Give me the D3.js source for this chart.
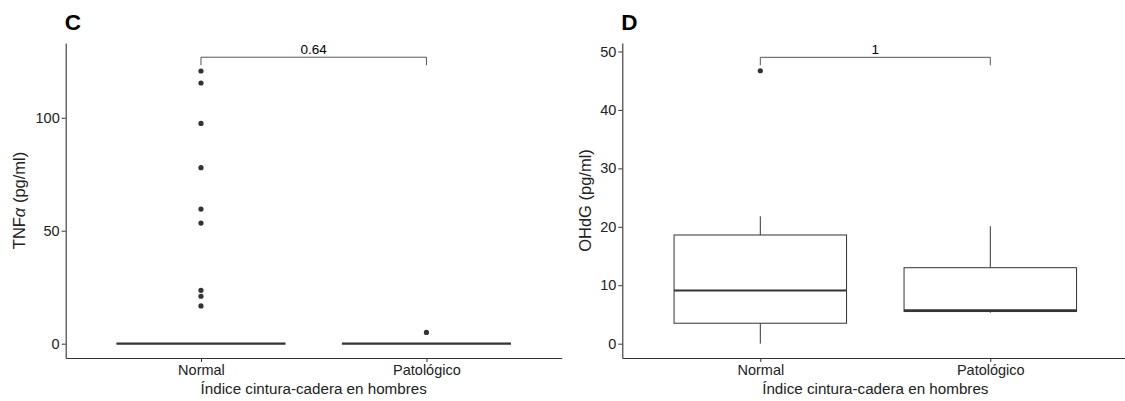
<!DOCTYPE html>
<html>
<head>
<meta charset="utf-8">
<script src="https://cdn.jsdelivr.net/npm/d3@7"></script>
<style>
	body { margin: 0; background: #fff; }
	svg { display: block; font-family: "Liberation Sans", Arial, sans-serif; }
</style>
</head>
<body>
<svg id="chart" width="1125" height="401"></svg>
<script>

// groups on the x axis
var categories = ["Normal", "Patológico"];

// panel C: TNF alpha, boxes collapse to zero
var tnfBoxes = [
	{group: "Normal", lower: 0, q1: 0, median: 0, q3: 0, upper: 0},
	{group: "Patológico", lower: 0, q1: 0, median: 0, q3: 0, upper: 0}
];
var tnfOutliersNormal = [120.7, 115.4, 97.5, 77.9, 59.6, 53.4, 23.6, 21.0, 16.7];
var tnfOutliersPatologico = [5.0];
var tnfTicks = [0, 50, 100];
var tnfPvalue = {label: "0.64", y: 126.8};

// panel D: OHdG
var ohdgBoxes = [
	{group: "Normal", lower: 0, q1: 3.5, median: 9.1, q3: 18.6, upper: 21.8},
	{group: "Patológico", lower: 5.3, q1: 5.5, median: 5.7, q3: 13.0, upper: 20.1}
];
var ohdgOutliersNormal = [46.7];
var ohdgOutliersPatologico = [];
var ohdgTicks = [0, 10, 20, 30, 40, 50];
var ohdgPvalue = {label: "1", y: 49.0};

var svg = d3.select("#chart");
var dark = "#333333";

function panel(opts) {
	var x = d3.scalePoint()
		.domain(categories)
		.range([opts.left, opts.left + opts.plotWidth])
		.padding(0.6);
	var y = d3.scaleLinear()
		.domain(opts.yDomain)
		.range([358, 43]);

	var g = svg.append("g");
	var bw = x.step() * 0.75;

	// panel letter
	g.append("text")
		.attr("x", opts.left - 1)
		.attr("y", 29.5)
		.attr("font-size", 22.5)
		.attr("font-weight", "bold")
		.attr("fill", "#000")
		.text(opts.letter);

	// axes
	var yAxis = g.append("g")
		.attr("transform", "translate(" + opts.left + ",0)")
		.call(d3.axisLeft(y).tickValues(opts.ticks).tickSize(4).tickSizeOuter(0).tickPadding(2));
	var xAxis = g.append("g")
		.attr("transform", "translate(0,358)")
		.call(d3.axisBottom(x).tickSize(4).tickSizeOuter(0).tickPadding(3));
	[xAxis, yAxis].forEach(function(a) {
		a.select(".domain").attr("stroke", dark).attr("stroke-width", 1.1);
		a.selectAll(".tick line").attr("stroke", dark);
		a.selectAll(".tick text")
			.attr("fill", "#222")
			.attr("font-size", 14.5)
			.attr("font-family", "Liberation Sans, Arial, sans-serif");
	});

	// boxes
	var box = g.selectAll(".box")
		.data(opts.boxes)
		.enter().append("g")
		.attr("class", "box");
	box.append("line")
		.attr("x1", function(d) { return x(d.group); })
		.attr("x2", function(d) { return x(d.group); })
		.attr("y1", function(d) { return y(d.upper); })
		.attr("y2", function(d) { return y(d.q3); })
		.attr("stroke", dark);
	box.append("line")
		.attr("x1", function(d) { return x(d.group); })
		.attr("x2", function(d) { return x(d.group); })
		.attr("y1", function(d) { return y(d.q1); })
		.attr("y2", function(d) { return y(d.lower); })
		.attr("stroke", dark);
	box.append("rect")
		.attr("x", function(d) { return x(d.group) - bw / 2; })
		.attr("width", bw)
		.attr("y", function(d) { return y(d.q3); })
		.attr("height", function(d) { return y(d.q1) - y(d.q3); })
		.attr("fill", "#fff")
		.attr("stroke", dark)
		.attr("stroke-width", 1);
	box.append("line")
		.attr("x1", function(d) { return x(d.group) - bw / 2; })
		.attr("x2", function(d) { return x(d.group) + bw / 2; })
		.attr("y1", function(d) { return y(d.median); })
		.attr("y2", function(d) { return y(d.median); })
		.attr("stroke", dark)
		.attr("stroke-width", 2.2);

	// outliers
	var pts = [];
	opts.outliers.forEach(function(list, i) {
		list.forEach(function(v) { pts.push({group: categories[i], value: v}); });
	});
	g.selectAll(".pt")
		.data(pts)
		.enter().append("circle")
		.attr("class", "pt")
		.attr("cx", function(d) { return x(d.group); })
		.attr("cy", function(d) { return y(d.value); })
		.attr("r", 2.6)
		.attr("fill", dark);

	// comparison bracket
	var by = y(opts.pvalue.y);
	g.append("path")
		.attr("d", "M" + x(categories[0]) + "," + (by + 8) + "V" + by + "H" + x(categories[1]) + "V" + (by + 8))
		.attr("fill", "none")
		.attr("stroke", "#555")
		.attr("stroke-width", 1);
	g.append("text")
		.attr("x", (x(categories[0]) + x(categories[1])) / 2)
		.attr("y", by - 3.5)
		.attr("text-anchor", "middle")
		.attr("font-size", 13.5)
		.attr("fill", "#000")
		.text(opts.pvalue.label);

	// axis titles
	g.append("text")
		.attr("x", opts.left + opts.plotWidth / 2)
		.attr("y", 393.5)
		.attr("text-anchor", "middle")
		.attr("font-size", 15.2)
		.attr("fill", "#222")
		.text("Índice cintura-cadera en hombres");
	var yt = g.append("text")
		.attr("transform", "translate(" + opts.yTitleX + "," + ((358 + 43) / 2) + ") rotate(-90)")
		.attr("text-anchor", "middle")
		.attr("font-size", 16.5)
		.attr("fill", "#222");
	opts.yTitle(yt);
}

panel({
	letter: "C",
	left: 65.7,
	plotWidth: 496,
	yDomain: [-6.34, 133.1],
	ticks: tnfTicks,
	boxes: tnfBoxes,
	outliers: [tnfOutliersNormal, tnfOutliersPatologico],
	pvalue: tnfPvalue,
	yTitleX: 25,
	yTitle: function(t) {
		t.append("tspan").text("TNF");
		t.append("tspan").attr("font-style", "italic").text("α");
		t.append("tspan").text(" (pg/ml)");
	}
});

panel({
	letter: "D",
	left: 622.3,
	plotWidth: 506,
	yDomain: [-2.45, 51.45],
	ticks: ohdgTicks,
	boxes: ohdgBoxes,
	outliers: [ohdgOutliersNormal, ohdgOutliersPatologico],
	pvalue: ohdgPvalue,
	yTitleX: 591,
	yTitle: function(t) { t.text("OHdG (pg/ml)"); }
});

</script>
</body>
</html>
